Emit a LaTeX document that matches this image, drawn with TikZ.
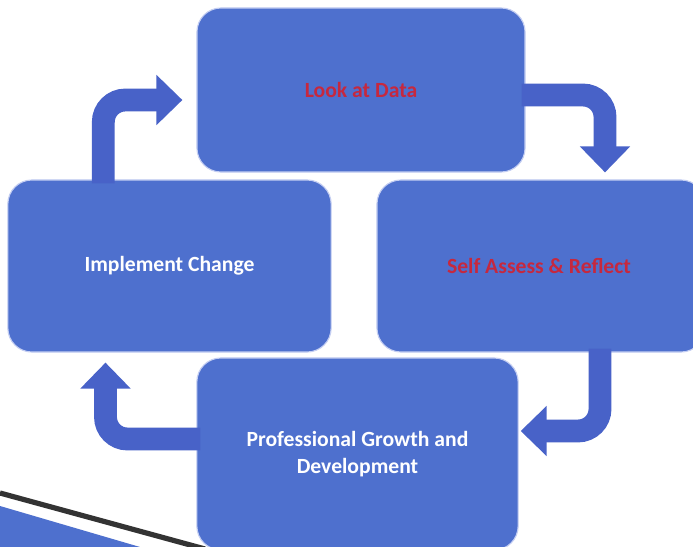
\documentclass[tikz,border=0pt]{standalone}
\usepackage{fontspec}
\setmainfont{Carlito}
\usetikzlibrary{arrows.meta}
\definecolor{boxblue}{RGB}{78,112,206}
\definecolor{arrowblue}{RGB}{72,98,200}
\definecolor{rimblue}{RGB}{196,206,242}
\definecolor{datared}{RGB}{198,40,62}
\tikzset{
    stagebox/.style={draw=rimblue, line width=0.8pt, fill=boxblue, rounded corners=0.6cm,
        inner sep=0pt},
    stagetext/.style={text=white, align=center, font=\fontsize{15.4}{18.8}\selectfont\bfseries},
    cyclearrow/.style={draw=arrowblue, line width=0.57cm, rounded corners=0.55cm,
        -{Triangle[width=1.22cm, length=0.65cm]}}
}
\begin{document}
\begin{tikzpicture}[x=0.025cm, y=-0.025cm]
                \clip (0,0) rectangle (693,547);
                \fill[white] (0,0) rectangle (693,547);

                \fill[boxblue] (0,506) -- (140,547) -- (0,547) -- cycle;
                \draw[black!80, line width=0.13cm] (0,493) -- (205,549);

                \node [stagebox, minimum width=8.2cm, minimum height=4.1cm] (data) at (361,90) {};
                \node [stagebox, minimum width=8.08cm, minimum height=4.3cm] (impl) at (169.5,266) {};
                \node [stagebox, minimum width=8.2cm, minimum height=4.3cm] (assess) at (541,266) {};
                \node [stagebox, minimum width=8.03cm, minimum height=4.8cm] (growth) at (357.5,454) {};

                \draw[cyclearrow] ([xshift=2.4cm, yshift=-0.1cm]impl.north west) |- ([xshift=-0.35cm, yshift=-0.25cm]data.west);
                \draw[cyclearrow] ([xshift=-0.1cm, yshift=-0.125cm]data.east) -| ([xshift=1.6cm, yshift=0.175cm]assess.north);
                \draw[cyclearrow] ([xshift=1.475cm, yshift=0.1cm]assess.south) |- ([xshift=0.05cm, yshift=0.575cm]growth.east);
                \draw[cyclearrow] ([xshift=0.1cm, yshift=0.375cm]growth.west) -| ([xshift=-1.6cm, yshift=-0.25cm]impl.south);

                \node [stagetext, text=datared] (datatext) at (data.center) {Look at Data};
                \node [stagetext] (impltext) at (impl.center) {Implement Change};
                \node [stagetext, text=datared] (assesstext) at ([xshift=-0.05cm]assess.center) {Self Assess \& Reflect};
                \node [stagetext] (growthtext) at (growth.center) {Professional Growth and\\Development};
\end{tikzpicture}
\end{document}
